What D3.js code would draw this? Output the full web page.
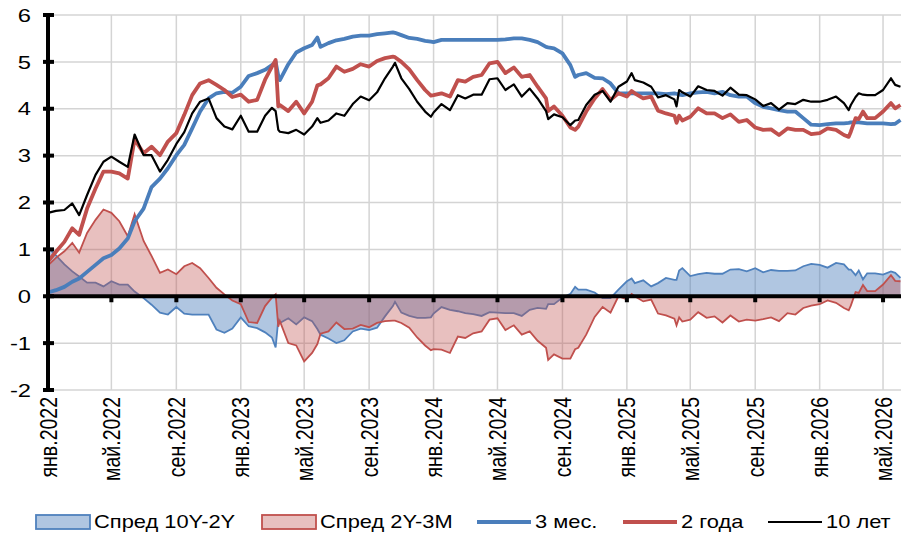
<!DOCTYPE html>
<html>
<head>
<meta charset="utf-8">
<script src="https://cdn.jsdelivr.net/npm/d3@7"></script>
<style>
  body { margin: 0; background: #fff; }
  svg text { font-family: "Liberation Sans", Arial, sans-serif; fill: #000; }
</style>
</head>
<body>
<div id="chart"></div>
<script>
// observation dates (mostly twice a month)
const dates = [
  "2022-01-01","2022-01-16","2022-02-01","2022-02-16","2022-03-01","2022-03-16","2022-04-01","2022-04-16",
  "2022-05-01","2022-05-16","2022-06-01","2022-06-14","2022-07-01","2022-07-16","2022-08-01","2022-08-16",
  "2022-09-01","2022-09-16","2022-10-01","2022-10-16","2022-11-01","2022-11-16","2022-12-01","2022-12-16",
  "2023-01-01","2023-01-16","2023-02-01","2023-02-16","2023-03-01","2023-03-08","2023-03-13","2023-03-16",
  "2023-04-01","2023-04-16","2023-05-01","2023-05-16","2023-05-26","2023-06-01","2023-06-16","2023-07-01",
  "2023-07-16","2023-08-01","2023-08-16","2023-09-01","2023-09-16","2023-10-01","2023-10-16","2023-10-20",
  "2023-11-01","2023-11-16","2023-12-01","2023-12-16","2023-12-27",
  "2024-01-01","2024-01-16","2024-02-01","2024-02-16","2024-03-01","2024-03-16","2024-04-01","2024-04-16",
  "2024-05-01","2024-05-16","2024-06-01","2024-06-16","2024-07-01","2024-07-16","2024-08-01","2024-08-05",
  "2024-08-16","2024-09-01","2024-09-16","2024-09-25","2024-10-01","2024-10-16","2024-11-01","2024-11-16",
  "2024-12-01","2024-12-16",
  "2025-01-01","2025-01-10","2025-01-16","2025-02-01","2025-02-16","2025-03-01","2025-03-16","2025-04-01",
  "2025-04-05","2025-04-10","2025-04-16","2025-05-01","2025-05-16","2025-06-01","2025-06-16","2025-07-01",
  "2025-07-16","2025-08-01","2025-08-16","2025-09-01","2025-09-16","2025-10-01","2025-10-16","2025-11-01",
  "2025-11-16","2025-12-01","2025-12-16",
  "2026-01-01","2026-01-16","2026-02-01","2026-02-16","2026-02-25","2026-03-01","2026-03-10","2026-03-16",
  "2026-03-24","2026-04-01","2026-04-16","2026-05-01","2026-05-16","2026-05-24","2026-06-03"
];

const rate3m = [
  0.08,0.13,0.20,0.31,0.38,0.52,0.67,0.81,
  0.88,1.02,1.23,1.60,1.87,2.33,2.51,2.73,
  3.01,3.23,3.58,3.94,4.22,4.33,4.36,4.34,
  4.47,4.70,4.76,4.83,4.93,5.00,4.70,4.61,
  4.95,5.20,5.29,5.36,5.52,5.32,5.40,5.46,
  5.49,5.54,5.56,5.56,5.59,5.61,5.63,5.62,
  5.57,5.51,5.49,5.45,5.43,
  5.42,5.47,5.47,5.47,5.47,5.47,5.47,5.47,
  5.47,5.48,5.50,5.50,5.47,5.42,5.32,5.31,
  5.29,5.18,4.93,4.68,4.72,4.76,4.66,4.65,
  4.54,4.33,
  4.33,4.33,4.33,4.33,4.33,4.33,4.31,4.33,
  4.32,4.30,4.29,4.33,4.35,4.36,4.33,4.36,
  4.29,4.26,4.26,4.12,4.04,4.01,3.97,3.94,
  3.94,3.80,3.66,
  3.65,3.67,3.69,3.69,3.70,3.71,3.71,3.71,
  3.70,3.69,3.69,3.69,3.67,3.68,3.76
];

const rate2y = [
  0.74,0.95,1.16,1.45,1.31,1.87,2.30,2.66,
  2.66,2.62,2.51,3.35,3.05,3.19,3.01,3.30,
  3.48,3.87,4.29,4.54,4.61,4.51,4.40,4.25,
  4.30,4.15,4.19,4.62,4.90,5.04,4.05,4.08,
  3.95,4.15,3.90,4.15,4.50,4.52,4.65,4.90,
  4.79,4.85,4.95,4.90,5.02,5.08,5.11,5.10,
  5.00,4.84,4.61,4.40,4.28,
  4.29,4.33,4.26,4.61,4.58,4.68,4.72,4.97,
  5.00,4.76,4.88,4.68,4.72,4.47,4.22,3.95,
  4.05,3.85,3.60,3.55,3.62,3.94,4.22,4.42,
  4.19,4.33,
  4.26,4.38,4.33,4.22,4.26,3.96,3.90,3.85,
  3.70,3.85,3.75,3.83,4.01,3.90,3.90,3.80,
  3.88,3.72,3.76,3.60,3.55,3.56,3.44,3.58,
  3.55,3.55,3.46,
  3.48,3.58,3.55,3.44,3.40,3.51,3.80,3.78,
  3.94,3.80,3.80,3.94,4.12,4.01,4.08
];

const rate10y = [
  1.78,1.82,1.84,1.98,1.73,2.16,2.59,2.87,
  2.98,2.87,2.76,3.45,3.01,3.01,2.66,2.91,
  3.25,3.50,3.90,4.15,4.22,3.80,3.62,3.56,
  3.85,3.51,3.51,3.85,4.02,3.95,3.55,3.51,
  3.48,3.55,3.45,3.62,3.80,3.70,3.75,3.90,
  3.85,4.10,4.26,4.18,4.35,4.65,4.90,4.98,
  4.65,4.42,4.15,3.94,3.83,
  3.92,4.10,3.97,4.29,4.22,4.30,4.30,4.63,
  4.65,4.40,4.52,4.26,4.43,4.22,3.95,3.78,
  3.88,3.82,3.65,3.75,3.76,4.08,4.30,4.38,
  4.15,4.47,
  4.58,4.76,4.61,4.56,4.47,4.24,4.29,4.20,
  4.05,4.40,4.35,4.26,4.48,4.40,4.38,4.28,
  4.45,4.30,4.29,4.20,4.06,4.12,3.98,4.12,
  4.10,4.19,4.15,
  4.15,4.19,4.26,4.12,3.97,4.08,4.25,4.33,
  4.30,4.29,4.29,4.40,4.65,4.51,4.47
];

const yTicks = [-2, -1, 0, 1, 2, 3, 4, 5, 6];
const xTickDates = [
  "2022-01-01","2022-05-01","2022-09-01","2023-01-01","2023-05-01","2023-09-01","2024-01-01",
  "2024-05-01","2024-09-01","2025-01-01","2025-05-01","2025-09-01","2026-01-01","2026-05-01"
];
const xTickLabels = [
  "янв.2022","май.2022","сен.2022","янв.2023","май.2023","сен.2023","янв.2024",
  "май.2024","сен.2024","янв.2025","май.2025","сен.2025","янв.2026","май.2026"
];
const legendNames = ["Спред 10Y-2Y", "Спред 2Y-3M", "3 мес.", "2 года", "10 лет"];

const W = 908, H = 537;
const blue = "#4f81bd", red = "#c0504d";
const stretch = 1.25; // the original text is drawn wide

const parse = d3.timeParse("%Y-%m-%d");
const data = dates.map((d, i) => ({
  date: parse(d),
  r3m: rate3m[i],
  r2y: rate2y[i],
  r10y: rate10y[i],
  s102: rate10y[i] - rate2y[i],
  s23: rate2y[i] - rate3m[i]
}));

const x = d3.scaleTime()
  .domain([parse("2022-01-01"), parse("2026-06-04")])
  .range([48, 901]);
const y = d3.scaleLinear().domain([-2, 6]).range([390, 15]);

const svg = d3.select("#chart").append("svg")
  .attr("width", W).attr("height", H);

// grid
svg.append("g").selectAll("line").data(yTicks).join("line")
  .attr("x1", x.range()[0]).attr("x2", x.range()[1])
  .attr("y1", d => y(d)).attr("y2", d => y(d))
  .attr("stroke", "#d4d4d4").attr("stroke-width", 1.5);
svg.append("g").selectAll("line").data(xTickDates.slice(1)).join("line")
  .attr("x1", d => x(parse(d))).attr("x2", d => x(parse(d)))
  .attr("y1", y(6)).attr("y2", y(-2))
  .attr("stroke", "#d4d4d4").attr("stroke-width", 1.5);

// spread areas
function drawSpread(key, color, fillOpacity) {
  const area = d3.area()
    .x(d => x(d.date)).y0(y(0)).y1(d => y(d[key]));
  const line = d3.line().x(d => x(d.date)).y(d => y(d[key]));
  svg.append("path").datum(data)
    .attr("d", area).attr("fill", color).attr("fill-opacity", fillOpacity);
  svg.append("path").datum(data)
    .attr("d", line).attr("fill", "none")
    .attr("stroke", color).attr("stroke-width", 1.8);
}
drawSpread("s102", blue, 0.45);
drawSpread("s23", red, 0.36);

// rate lines
function drawLine(key, color, width) {
  svg.append("path").datum(data)
    .attr("d", d3.line().x(d => x(d.date)).y(d => y(d[key])))
    .attr("fill", "none").attr("stroke", color)
    .attr("stroke-width", width).attr("stroke-linejoin", "round");
}
drawLine("r3m", "#4a7ebb", 3.8);
drawLine("r2y", red, 3.8);
drawLine("r10y", "#000", 2.2);

// zero axis with ticks
svg.append("line")
  .attr("x1", x.range()[0]).attr("x2", x.range()[1])
  .attr("y1", y(0)).attr("y2", y(0))
  .attr("stroke", "#000").attr("stroke-width", 4);
svg.append("g").selectAll("rect").data(xTickDates).join("rect")
  .attr("x", d => x(parse(d)) - 2).attr("y", y(0))
  .attr("width", 4).attr("height", 6).attr("fill", "#000");

// y axis
svg.append("line")
  .attr("x1", 48).attr("x2", 48)
  .attr("y1", y(6) - 2).attr("y2", y(-2) + 2)
  .attr("stroke", "#000").attr("stroke-width", 4);
svg.append("g").selectAll("rect").data(yTicks).join("rect")
  .attr("x", 43).attr("y", d => y(d) - 2)
  .attr("width", 11).attr("height", 4).attr("fill", "#000");
svg.append("g").selectAll("text").data(yTicks).join("text")
  .attr("transform", d => `translate(31,${y(d)}) scale(${stretch},1)`)
  .attr("dy", "0.35em")
  .attr("text-anchor", "end").style("font-size", "19px")
  .text(d => d);

// x labels
svg.append("g").selectAll("text").data(xTickDates).join("text")
  .attr("transform", d => `translate(${x(parse(d))},397) scale(${stretch},1) rotate(-90)`)
  .attr("dy", "0.35em").attr("text-anchor", "end")
  .style("font-size", "19.5px")
  .text((d, i) => xTickLabels[i]);

// legend
const legendX = [36, 262, 477, 623, 768];
const lg = svg.append("g");
legendNames.forEach((name, i) => {
  const lx = legendX[i], ly = 522;
  if (i < 2) {
    const c = i === 0 ? blue : red;
    lg.append("rect").attr("x", lx).attr("y", ly - 7).attr("width", 54).attr("height", 14)
      .attr("fill", c).attr("fill-opacity", i === 0 ? 0.45 : 0.36)
      .attr("stroke", c).attr("stroke-width", 1.8);
  } else {
    const c = ["#4a7ebb", red, "#000"][i - 2];
    lg.append("line").attr("x1", lx).attr("x2", lx + 54).attr("y1", ly).attr("y2", ly)
      .attr("stroke", c).attr("stroke-width", i === 4 ? 2.2 : 3.8);
  }
  lg.append("text")
    .attr("transform", `translate(${lx + 58},${ly}) scale(${stretch},1)`)
    .attr("dy", "0.35em")
    .style("font-size", "17.5px").text(name);
});
</script>
</body>
</html>
